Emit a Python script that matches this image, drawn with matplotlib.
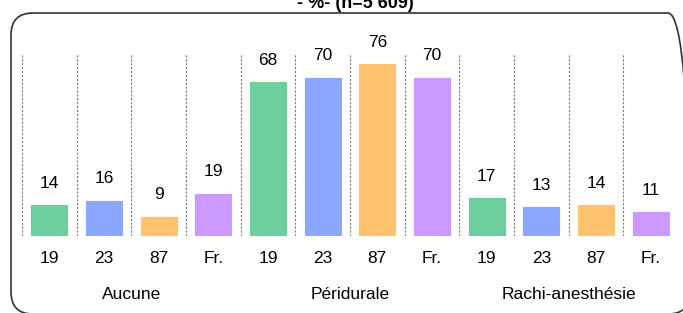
import matplotlib.pyplot as plt
from matplotlib.patches import FancyBboxPatch
from matplotlib.transforms import IdentityTransform, blended_transform_factory

# Data
groups = ["Aucune", "Péridurale", "Rachi-anesthésie"]
series = ["19", "23", "87", "Fr."]
v19 = [14, 68, 17]
v23 = [16, 70, 13]
v87 = [9, 76, 14]
vfr = [19, 70, 11]
colors = ["#6ccf9d", "#8aa8ff", "#ffc36e", "#cc99ff"]

plt.rcParams['font.family'] = ['Liberation Sans Narrow', 'Liberation Sans', 'DejaVu Sans']

W, H = 683, 313
fig = plt.figure(figsize=(W / 100, H / 100), dpi=100)
ax = fig.add_axes([22 / W, (H - 236) / H, (678 - 22) / W, (236 - 54) / H])

values = [v19, v23, v87, vfr]
xs, hs, cs, labs = [], [], [], []
for g in range(len(groups)):
    for s in range(len(series)):
        xs.append(g * len(series) + s + 0.5)
        hs.append(values[s][g])
        cs.append(colors[s])
        labs.append(series[s])

bars = ax.bar(xs, hs, width=0.7, color=cs, edgecolor="white", linewidth=0.6)
for b, h in zip(bars, hs):
    ax.annotate(str(h), (b.get_x() + b.get_width() / 2, h), xytext=(0, 15),
                textcoords="offset points", ha="center", va="center", fontsize=12.5)

# dashed separators
for i in range(len(xs) + 1):
    ax.axvline(i, color="#7a7a7a", linestyle=(0, (2, 1.5)), linewidth=0.8, zorder=0)

ax.set_xlim(0, len(xs))
ax.set_ylim(0, 80)
ax.set_xticks(xs)
ax.set_xticklabels(labs, fontsize=12.5)
ax.tick_params(axis="x", length=0, pad=11)
ax.set_yticks([])
for sp in ax.spines.values():
    sp.set_visible(False)

trans = blended_transform_factory(ax.transData, ax.transAxes)
for g, name in enumerate(groups):
    ax.text(g * len(series) + len(series) / 2, -0.32, name, transform=trans,
            ha="center", va="center", fontsize=12.5)

# rounded frame (pixel coordinates)
frame = FancyBboxPatch((11, -1), 679, H - 12, boxstyle="round,pad=0,rounding_size=22",
                       transform=IdentityTransform(), fill=False,
                       edgecolor="#333333", linewidth=1.2)
fig.add_artist(frame)

# title, mostly cut off at the top
fig.text(355 / W, 1 - 8 / H, "- %- (n=5 609)", ha="center", va="baseline",
         fontsize=13, fontweight="bold")

fig.savefig("out.png", dpi=100)
